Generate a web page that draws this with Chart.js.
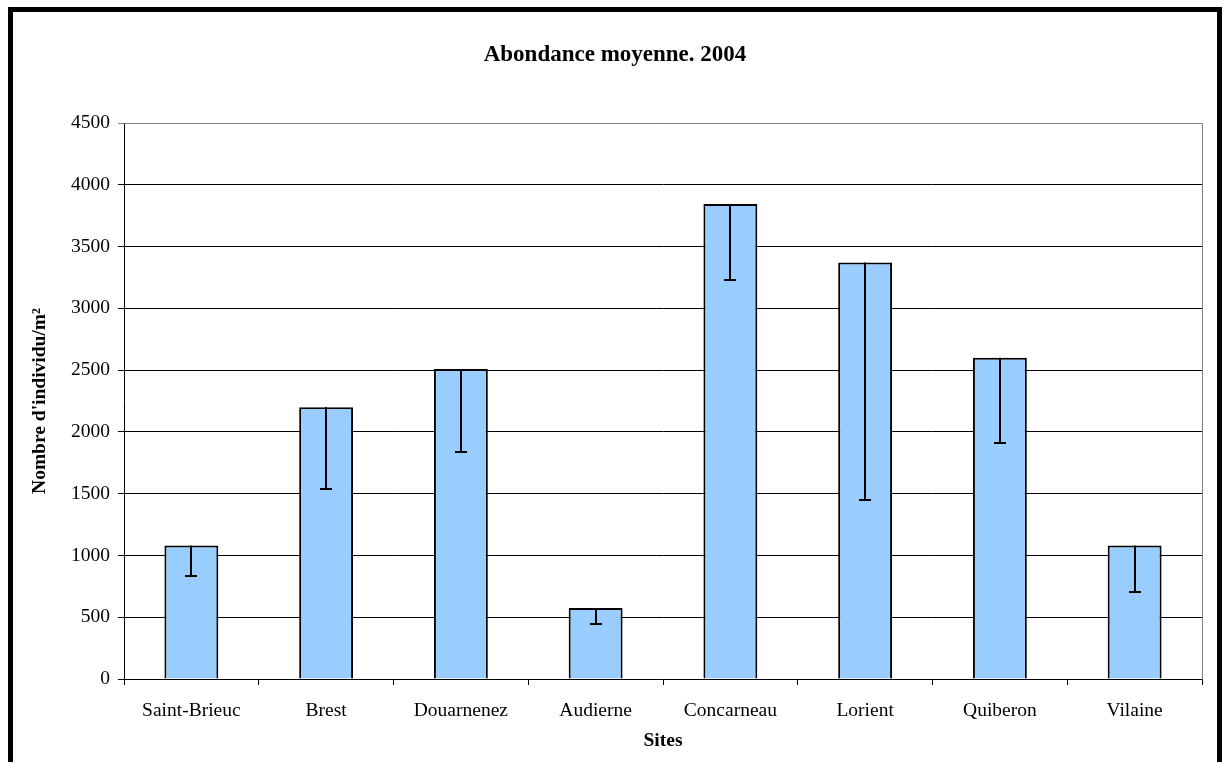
<!DOCTYPE html>
<html>
<head>
<meta charset="utf-8">
<script src="https://cdn.jsdelivr.net/npm/chart.js@4/dist/chart.umd.min.js"></script>
<style>
  html, body { margin: 0; padding: 0; background: #fff; overflow: hidden; width: 1222px; height: 762px; }
  #wrap { position: relative; width: 1222px; height: 762px; }
  canvas { position: absolute; left: 0; top: 0; }
  #frame { position: absolute; left: 8px; top: 7px; width: 1204px; height: 800px; border: 5px solid #000; pointer-events: none; }
</style>
</head>
<body>
<div id="wrap">
  <canvas id="c" width="1222" height="762"></canvas>
  <div id="frame"></div>
</div>
<script>
const sites = ["Saint-Brieuc", "Brest", "Douarnenez", "Audierne", "Concarneau", "Lorient", "Quiberon", "Vilaine"];
const moyennes = [1080, 2200, 2510, 575, 3845, 3370, 2600, 1080];
const bornesInf = [835, 1535, 1835, 445, 3230, 1450, 1910, 705];
const yMin = 0, yMax = 4500, yStep = 500;

const serif = "'Liberation Serif', 'Times New Roman', serif";

const plotFrame = {
  id: 'plotFrame',
  beforeDatasetsDraw(chart) {
    const a = chart.chartArea, ctx = chart.ctx;
    ctx.save();
    ctx.strokeStyle = '#808080';
    ctx.lineWidth = 1;
    ctx.beginPath();
    ctx.moveTo(Math.round(a.left) + 0.5, Math.round(a.top) + 0.5);
    ctx.lineTo(Math.round(a.right) + 0.5, Math.round(a.top) + 0.5);
    ctx.lineTo(Math.round(a.right) + 0.5, Math.round(a.bottom) + 0.5);
    ctx.stroke();
    ctx.restore();
  }
};

const errorBars = {
  id: 'errorBars',
  afterDatasetsDraw(chart) {
    const ctx = chart.ctx;
    const meta = chart.getDatasetMeta(0);
    const y = chart.scales.y;
    ctx.save();
    ctx.strokeStyle = '#000';
    ctx.lineWidth = 2;
    meta.data.forEach((bar, i) => {
      const x = Math.round(bar.x);
      const yTop = y.getPixelForValue(moyennes[i]);
      const yLow = Math.round(y.getPixelForValue(bornesInf[i]));
      ctx.beginPath();
      ctx.moveTo(x, yTop);
      ctx.lineTo(x, yLow);
      ctx.moveTo(x - 6, yLow);
      ctx.lineTo(x + 6, yLow);
      ctx.stroke();
    });
    ctx.restore();
  }
};

new Chart(document.getElementById('c'), {
  type: 'bar',
  data: {
    labels: sites,
    datasets: [{
      data: moyennes,
      backgroundColor: '#99CCFF',
      borderColor: '#000',
      borderWidth: 2,
      barPercentage: 0.4,
      categoryPercentage: 1.0
    }]
  },
  options: {
    responsive: false,
    devicePixelRatio: 1,
    animation: false,
    layout: { padding: { left: 28, right: 20, top: 0, bottom: 0 } },
    plugins: {
      legend: { display: false },
      tooltip: { enabled: false },
      title: {
        display: true,
        text: 'Abondance moyenne. 2004',
        color: '#000',
        font: { family: serif, size: 23, weight: 'bold' },
        padding: { top: 41, bottom: 54.4 }
      }
    },
    scales: {
      x: {
        offset: true,
        grid: { offset: true, drawOnChartArea: false, drawTicks: true, tickLength: 6, color: '#000', lineWidth: 1 },
        border: { display: true, color: '#000', width: 1 },
        ticks: { color: '#000', font: { family: serif, size: 19.5 }, padding: 14, maxRotation: 0, autoSkip: false },
        title: { display: true, text: 'Sites', color: '#000', font: { family: serif, size: 19.5, weight: 'bold' }, padding: { top: 0, bottom: 9 } },
        afterFit(s) { s.height = 83; }
      },
      y: {
        min: yMin, max: yMax,
        ticks: { stepSize: yStep, color: '#000', font: { family: serif, size: 19.5 }, padding: 8, callback: (v) => String(v) },
        grid: { color: (c) => (c.tick && c.tick.value === yMax) ? '#808080' : '#000', lineWidth: 1, tickLength: 6, drawTicks: true },
        border: { display: true, color: '#000', width: 1 },
        title: { display: true, text: "Nombre d'individu/m²", color: '#000', font: { family: serif, size: 19.5, weight: 'bold' }, padding: { top: 0, bottom: 0 } },
        afterFit(s) { s.width = 96; }
      }
    }
  },
  plugins: [plotFrame, errorBars]
});
</script>
</body>
</html>
